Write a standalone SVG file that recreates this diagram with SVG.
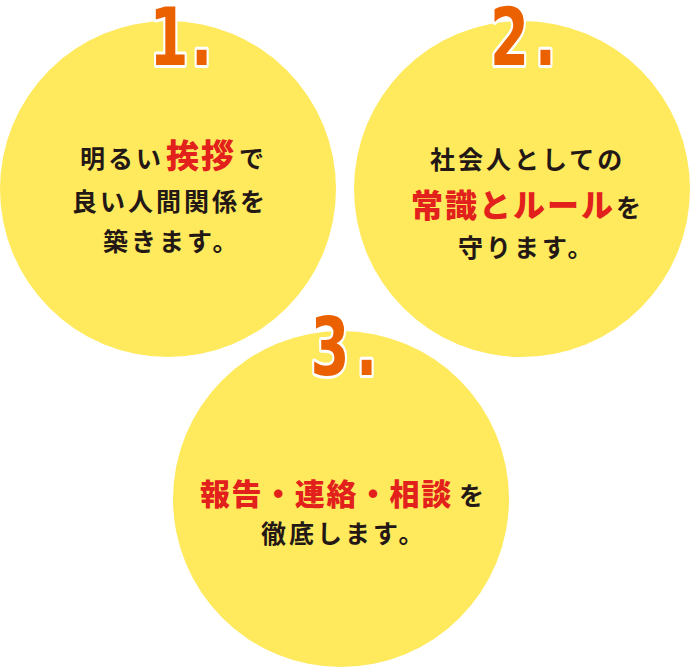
<svg xmlns="http://www.w3.org/2000/svg" width="690" height="667" viewBox="0 0 690 667">
<style>
.circle{fill:#FFE95C}
.num{font-family:"DejaVu Sans","Liberation Sans",sans-serif;font-weight:700;font-size:80px;fill:#EB6100;stroke:#FFFFFF;stroke-width:6;stroke-linejoin:round;paint-order:stroke}
.t{font-family:"Noto Sans CJK JP","Noto Sans",sans-serif;font-weight:700;font-size:25px;fill:#231815;letter-spacing:3px}
.r{fill:#E2201C;font-size:33px;font-weight:900;letter-spacing:2px}
</style>
<rect width="690" height="667" fill="#FFFFFF"/>
<g id="node1">
<circle class="circle" cx="168" cy="189" r="168"/>
<text class="num" transform="translate(0,65) scale(0.7,1)"><tspan x="241.4" text-anchor="middle">1</tspan><tspan x="287.9" text-anchor="middle">.</tspan></text>
<text class="t" y="168"><tspan x="80">明るい</tspan><tspan class="r" x="166">挨拶</tspan><tspan x="239">で</tspan></text>
<text class="t" x="72" y="211">良い人間関係を</text>
<text class="t" x="103" y="251">築きます。</text>
</g>
<g id="node2">
<circle class="circle" cx="522" cy="189" r="168"/>
<text class="num" transform="translate(0,65) scale(0.7,1)"><tspan x="727.9" text-anchor="middle">2</tspan><tspan x="779.3" text-anchor="middle">.</tspan></text>
<text class="t" x="430" y="169">社会人としての</text>
<text class="t" y="217"><tspan class="r" x="411" style="font-size:32px;letter-spacing:2px">常識とルール</tspan><tspan x="616">を</tspan></text>
<text class="t" x="458" y="257">守ります。</text>
</g>
<g id="node3">
<circle class="circle" cx="341" cy="499" r="168"/>
<text class="num" transform="translate(0,375) scale(0.7,1)"><tspan x="471.4" text-anchor="middle">3</tspan><tspan x="523.6" text-anchor="middle">.</tspan></text>
<text class="t" y="505"><tspan class="r" x="200" style="font-size:30px;letter-spacing:1.6px">報告・連絡・相談</tspan><tspan x="459">を</tspan></text>
<text class="t" x="261" y="543">徹底します。</text>
</g>
<g id="connectors"></g>
</svg>
